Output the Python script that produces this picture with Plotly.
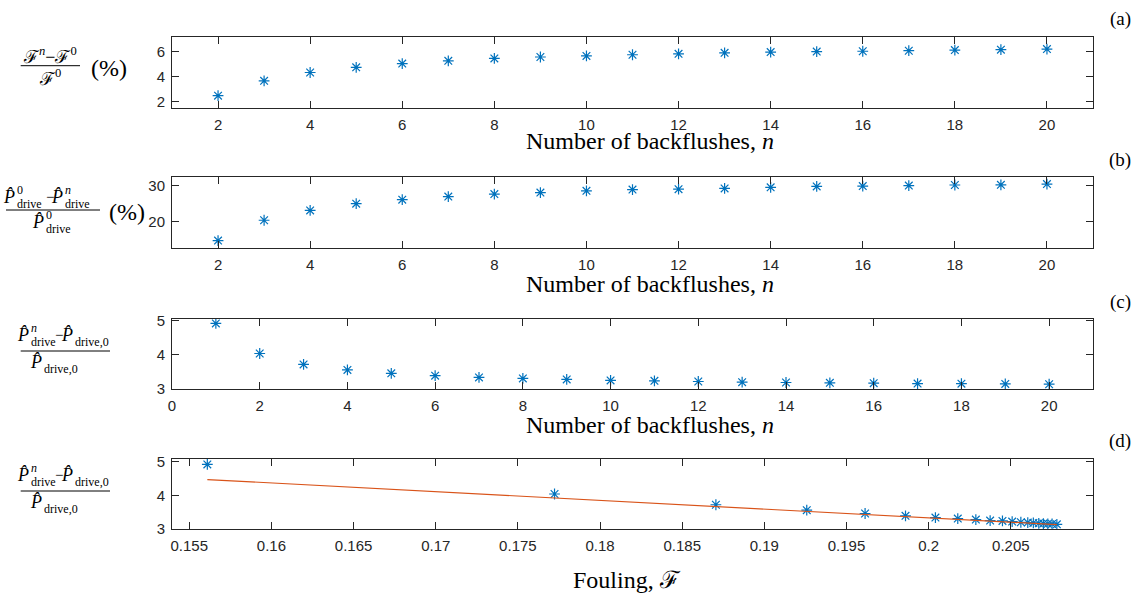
import plotly.graph_objects as go

# ---------------- data ----------------
n_ab = list(range(2, 21))
fouling_increase_pct = [2.48, 3.66, 4.32, 4.73, 5.03, 5.25, 5.44, 5.55, 5.64, 5.73,
                        5.80, 5.88, 5.94, 5.98, 6.01, 6.05, 6.10, 6.13, 6.18]
power_reduction_pct = [14.8, 20.4, 23.1, 24.95, 26.05, 26.9, 27.6, 28.0, 28.5, 28.85,
                       28.95, 29.15, 29.45, 29.7, 29.8, 29.95, 30.1, 30.15, 30.35]
n_c = list(range(1, 21))
power_ratio = [4.92, 4.04, 3.72, 3.56, 3.46, 3.39, 3.34, 3.31, 3.28, 3.25,
               3.24, 3.22, 3.20, 3.19, 3.18, 3.17, 3.16, 3.155, 3.15, 3.14]
fouling = [0.15610, 0.17723, 0.18705, 0.19258, 0.19613, 0.19859, 0.20041, 0.20177,
           0.20287, 0.20374, 0.20449, 0.20508, 0.20561, 0.20603, 0.20637, 0.20670,
           0.20698, 0.20725, 0.20751, 0.20780]
fit_fouling = [0.15610, 0.20780]
fit_power_ratio = [4.47, 3.13]

xticks_n = list(range(2, 21, 2))
xticks_n_c = list(range(0, 21, 2))
xticks_f = [0.155, 0.16, 0.165, 0.17, 0.175, 0.18, 0.185, 0.19, 0.195, 0.2, 0.205]
xticklabels_f = ["0.155", "0.16", "0.165", "0.17", "0.175", "0.18", "0.185",
                 "0.19", "0.195", "0.2", "0.205"]

W, H = 1136, 601
BLUE = "#0072BD"
ORANGE = "#D95319"
AX = "#262626"
SERIF = "Liberation Serif, Times New Roman, serif"
SANS = "Liberation Sans, Arial, sans-serif"

marker = dict(symbol="asterisk-open", size=9, color=BLUE, line=dict(color=BLUE, width=1.2))

fig = go.Figure()
fig.add_trace(go.Scatter(x=n_ab, y=fouling_increase_pct, mode="markers", marker=marker,
                         xaxis="x", yaxis="y", showlegend=False))
fig.add_trace(go.Scatter(x=n_ab, y=power_reduction_pct, mode="markers", marker=marker,
                         xaxis="x2", yaxis="y2", showlegend=False))
fig.add_trace(go.Scatter(x=n_c, y=power_ratio, mode="markers", marker=marker,
                         xaxis="x3", yaxis="y3", showlegend=False))
fig.add_trace(go.Scatter(x=fouling, y=power_ratio, mode="markers", marker=marker,
                         xaxis="x4", yaxis="y4", showlegend=False))
fig.add_trace(go.Scatter(x=fit_fouling, y=fit_power_ratio, mode="lines",
                         line=dict(color=ORANGE, width=1.2),
                         xaxis="x4", yaxis="y4", showlegend=False))

def ax(**kw):
    d = dict(showline=True, linecolor=AX, linewidth=1, mirror="allticks",
             ticks="inside", ticklen=7, tickcolor=AX, tickwidth=1,
             tickfont=dict(family=SANS, size=15, color=AX),
             showgrid=False, zeroline=False, ticklabelstandoff=3,
             automargin=False)
    d.update(kw)
    return d

xdom = [172 / W, 1093 / W]
def ydom(top, bot):
    return [1 - bot / H, 1 - top / H]

fig.update_layout(
    width=W, height=H, margin=dict(l=0, r=0, t=0, b=0, pad=0),
    plot_bgcolor="white", paper_bgcolor="white",
    xaxis=ax(domain=xdom, range=[1, 21], tickvals=xticks_n, anchor="y"),
    yaxis=ax(domain=ydom(37, 108), range=[1.5, 7.14], tickvals=[2, 4, 6], anchor="x"),
    xaxis2=ax(domain=xdom, range=[1, 21], tickvals=xticks_n, anchor="y2"),
    yaxis2=ax(domain=ydom(177, 248), range=[12.76, 32.3], tickvals=[20, 30], anchor="x2"),
    xaxis3=ax(domain=xdom, range=[0, 21], tickvals=xticks_n_c, anchor="y3"),
    yaxis3=ax(domain=ydom(319, 389), range=[3, 5.05], tickvals=[3, 4, 5], anchor="x3"),
    xaxis4=ax(domain=xdom, range=[0.15395, 0.21], tickvals=xticks_f,
              ticktext=xticklabels_f, anchor="y4"),
    yaxis4=ax(domain=ydom(459, 529), range=[3, 5.08], tickvals=[3, 4, 5], anchor="x4"),
)

ann = []
shapes = []

def txt(s, px, py, size, xanchor="center", family=SERIF):
    ann.append(dict(x=px / W, y=1 - py / H, xref="paper", yref="paper", text=s,
                    showarrow=False, xanchor=xanchor, yanchor="middle", borderpad=0,
                    font=dict(family=family, size=size, color="black")))

def hline(x0, x1, py):
    shapes.append(dict(type="line", xref="paper", yref="paper",
                       x0=x0 / W, x1=x1 / W, y0=1 - py / H, y1=1 - py / H,
                       line=dict(color="black", width=1)))

PH = "<i>P\u0302</i>"
BASE = 18
SC = 12

def term(px, py, sup=None, sub=None):
    txt(PH, px, py, BASE, xanchor="right")
    if sup:
        txt(sup, px, py - 7, SC, xanchor="left")
    if sub:
        txt(sub, px, py + 7, SC, xanchor="left")

# x-axis titles
xt = "Number of backflushes, <i>n</i>"
txt(xt, 650, 141, 24)
txt(xt, 650, 284, 24)
txt(xt, 650, 425, 24)
txt("Fouling, \u2131", 627, 580, 24)

# panel labels
for lab, py in [("(a)", 19), ("(b)", 160), ("(c)", 302), ("(d)", 441)]:
    txt(lab, 1120, py, 19)

# (a) y label
txt("\u2131<sup><i>n</i></sup>\u2212\u2131<sup>0</sup>", 50, 55, 18)
hline(20.7, 80, 65.7)
txt("\u2131<sup>0</sup>", 50, 77, 18)
txt("(%)", 109, 68, 24)

# (b) y label
term(16, 197, sup="0", sub="drive")
txt("\u2212", 50, 197, 15)
term(64, 197, sup="<i>n</i>", sub="drive")
hline(6, 100, 210)
term(45, 222, sup="0", sub="drive")
txt("(%)", 127, 212, 24)

# (c) and (d) y labels
for off in (0, 140):
    term(30, 335 + off, sup="<i>n</i>", sub="drive")
    txt("\u2212", 59, 335 + off, 15)
    term(74, 335 + off, sub="drive,0")
    hline(20.7, 110, 351 + off)
    term(43, 362 + off, sub="drive,0")

fig.update_layout(annotations=ann, shapes=shapes)
fig.write_html("out.html", config={"displayModeBar": False},
               post_script="document.body.style.margin='0';document.body.style.overflow='hidden';")
